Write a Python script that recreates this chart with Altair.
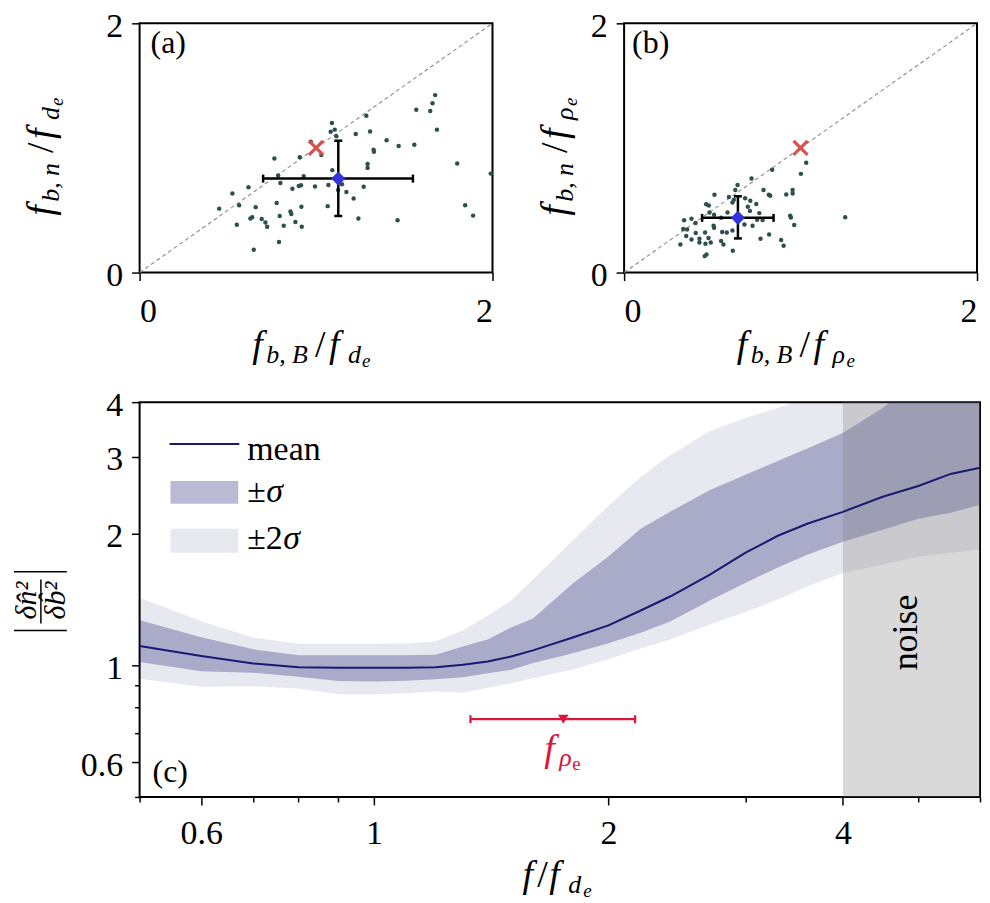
import altair as alt
import pandas as pd

FONT = "Liberation Serif"

# ---------------- panel (a) data ----------------
a_x = [1.09, 1.106, 1.083, 1.115, 1.285, 1.675, 1.66, 1.647, 1.568, 1.685, 1.225, 1.306, 1.40, 1.468,
       1.557, 1.326, 1.328, 1.03, 0.97, 0.764, 0.908, 1.292, 1.292, 1.80, 1.99, 1.092, 0.93, 0.785,
       0.798, 0.617, 0.526, 0.866, 0.902, 0.915, 0.994, 1.07, 1.147, 1.125, 1.172, 1.27, 1.213, 0.451,
       0.564, 0.658, 0.777, 0.917, 1.066, 0.855, 0.86, 0.794, 0.638, 0.628, 0.692, 0.713, 0.723, 0.551,
       0.817, 0.883, 0.919, 1.24, 1.462, 1.845, 1.89, 0.79, 0.647]
a_y = [1.20, 1.147, 1.13, 1.094, 1.259, 1.424, 1.358, 1.297, 1.307, 1.147, 1.112, 1.132, 1.061, 1.015,
       1.025, 0.985, 0.97, 0.944, 1.05, 0.916, 0.926, 0.871, 0.84, 0.876, 0.794, 0.822, 0.774, 0.779,
       0.718, 0.685, 0.635, 0.673, 0.695, 0.70, 0.69, 0.703, 0.708, 0.662, 0.647, 0.688, 0.594, 0.513,
       0.541, 0.525, 0.558, 0.528, 0.533, 0.49, 0.47, 0.454, 0.444, 0.434, 0.429, 0.401, 0.368, 0.383,
       0.376, 0.406, 0.368, 0.434, 0.419, 0.541, 0.457, 0.246, 0.183]
a_mean = [1.126, 0.754]
a_xerr = [0.70, 1.549]
a_yerr = [0.454, 1.058]

# ---------------- panel (b) data ----------------
b_x = [1.032, 1.002, 0.839, 0.722, 0.643, 0.63, 0.79, 0.82, 0.828, 0.919, 0.955, 0.955, 0.512, 0.594,
       0.614, 0.622, 0.686, 0.715, 0.749, 0.701, 0.713, 0.766, 0.465, 0.48, 0.484, 0.51, 0.586, 0.55,
       0.382, 0.34, 0.405, 0.507, 0.51, 0.754, 0.785, 0.728, 0.941, 0.945, 0.964, 1.253, 0.335, 0.357,
       0.406, 0.459, 0.556, 0.582, 0.614, 0.352, 0.382, 0.427, 0.427, 0.461, 0.491, 0.478, 0.55, 0.563,
       0.773, 0.822, 0.89, 0.904, 0.319, 0.616, 0.467, 0.457, 0.682]
b_y = [0.881, 0.792, 0.825, 0.754, 0.703, 0.662, 0.662, 0.624, 0.617, 0.627, 0.662, 0.635, 0.624, 0.607,
       0.563, 0.584, 0.596, 0.576, 0.551, 0.528, 0.495, 0.477, 0.548, 0.538, 0.482, 0.464, 0.482, 0.44,
       0.431, 0.419, 0.398, 0.376, 0.36, 0.424, 0.421, 0.376, 0.457, 0.442, 0.381, 0.444, 0.35, 0.345,
       0.317, 0.322, 0.325, 0.322, 0.338, 0.294, 0.266, 0.272, 0.241, 0.231, 0.241, 0.277, 0.254, 0.226,
       0.272, 0.305, 0.261, 0.216, 0.226, 0.175, 0.145, 0.132, 0.386]
b_mean = [0.645, 0.439]
b_xerr = [0.442, 0.847]
b_yerr = [0.274, 0.612]

ref_point = [1.0, 1.0]
diag = [0.0, 2.0]
scatter_ticks = [0, 1, 2]

# ---------------- panel (c) data ----------------
f_grid = [0.5, 0.6, 0.7, 0.8, 0.9, 1.0, 1.1, 1.2, 1.3, 1.4, 1.5, 1.6, 1.8, 2.0, 2.2, 2.4, 2.7, 3.0,
          3.3, 3.6, 4.0, 4.5, 5.0, 5.5, 6.0]
mean_c = [1.107, 1.05, 1.01, 0.99, 0.987, 0.987, 0.987, 0.99, 1.003, 1.021, 1.048, 1.082, 1.158, 1.234,
          1.335, 1.437, 1.612, 1.81, 1.979, 2.108, 2.245, 2.43, 2.573, 2.741, 2.833]
sig_hi = [1.269, 1.16, 1.088, 1.054, 1.054, 1.054, 1.054, 1.057, 1.105, 1.146, 1.221, 1.28, 1.54, 1.774,
          2.053, 2.245, 2.52, 2.73, 2.935, 3.133, 3.40, 3.88, 4.5, 5.0, 5.4]
sig_lo = [1.018, 0.97, 0.962, 0.942, 0.921, 0.919, 0.922, 0.929, 0.939, 0.959, 0.977, 1.012, 1.066, 1.123,
          1.187, 1.26, 1.407, 1.546, 1.675, 1.791, 1.918, 2.042, 2.164, 2.234, 2.329]
sig2_hi = [1.427, 1.262, 1.157, 1.12, 1.12, 1.12, 1.122, 1.136, 1.202, 1.3, 1.407, 1.572, 1.932, 2.317,
           2.698, 3.03, 3.435, 3.679, 3.88, 4.1, 4.5, 5.0, 5.5, 6.0, 6.5]
sig2_lo = [0.932, 0.894, 0.896, 0.885, 0.859, 0.859, 0.863, 0.872, 0.866, 0.889, 0.91, 0.934, 0.979, 1.032,
           1.093, 1.146, 1.24, 1.324, 1.414, 1.514, 1.627, 1.70, 1.773, 1.81, 1.84]
noise_range = [4.0, 6.0]
frho = [1.75]
frho_range = [1.33, 2.164]
frho_level = [0.753]
c_xticks = [0.5, 0.6, 0.7, 0.8, 0.9, 1, 2, 3, 4, 5, 6]
c_xlabels = [0.6, 1, 2, 4]
c_yticks = [0.5, 0.6, 0.7, 0.8, 0.9, 1, 2, 3, 4]
c_ylabels = [0.6, 1, 2, 3, 4]

ONE = pd.DataFrame({"k": [0]})
MIDNIGHT = "#191970"
TOP_H = 250


def T(s, x, y, size, style="italic", color="black", angle=0, align="left", baseline="alphabetic"):
    return alt.Chart(ONE).mark_text(text=s, font=FONT, fontSize=size, fontStyle=style, color=color,
                                    angle=angle, align=align, baseline=baseline).encode(
        x=alt.value(x), y=alt.value(y))


def hcomp(pieces, x0, y0, color="black"):
    return [T(s, x0 + dx, y0 + dy, sz, style=st, color=color) for (s, dx, dy, sz, st) in pieces]


def vcomp(pieces, x0, y0):
    return [T(s, x0 + dy, y0 - dx, sz, style=st, angle=270) for (s, dx, dy, sz, st) in pieces]


def ratio(sub1, sym2):
    return [("f", 0, 0, 38, "italic"), (sub1, 14, 6, 26, "italic"), ("/", 63, 0, 38, "normal"),
            ("f", 77, 0, 38, "italic"), (sym2, 96, 6, 26, "italic"), ("e", 110, 10, 19, "italic")]


def lin_axis(padding, offset=0):
    return alt.Axis(values=scatter_ticks, title=None, format="d", tickSize=8, labelPadding=padding,
                    labelOffset=offset)


def scatter_panel(xs, ys, mean, xerr, yerr, tag, tagx, sym2, ytx):
    sx = alt.Scale(domain=[0, 2], nice=False)
    sy = alt.Scale(domain=[0, 2], nice=False)
    diag_df = pd.DataFrame({"x": diag, "y": diag})
    layers = [
        alt.Chart(diag_df).mark_line(color="#8c8c8c", strokeDash=[4, 3], strokeWidth=1.1).encode(
            x=alt.X("x:Q", scale=sx, axis=lin_axis(14)),
            y=alt.Y("y:Q", scale=sy, axis=lin_axis(9, 3))),
        alt.Chart(pd.DataFrame({"x": xs, "y": ys})).mark_circle(size=20, color="#2f4f4f", opacity=1).encode(
            x="x:Q", y="y:Q"),
        alt.Chart(pd.DataFrame({"x": [ref_point[0]], "y": [ref_point[1]]})).mark_point(
            shape="M-1,-1L1,1M-1,1L1,-1", filled=False, size=200, strokeWidth=3.2, color="#d9504d",
            opacity=1).encode(x="x:Q", y="y:Q"),
        alt.Chart(pd.DataFrame({"x": [xerr[0]], "x2": [xerr[1]], "y": [mean[1]]})).mark_rule(
            color="black", strokeWidth=2.5).encode(x="x:Q", x2="x2:Q", y="y:Q"),
        alt.Chart(pd.DataFrame({"x": [mean[0]], "y": [yerr[0]], "y2": [yerr[1]]})).mark_rule(
            color="black", strokeWidth=2.5).encode(x="x:Q", y="y:Q", y2="y2:Q"),
        alt.Chart(pd.DataFrame({"x": xerr, "y": [mean[1]] * 2})).mark_tick(
            orient="vertical", thickness=2.5, size=8, color="black", opacity=1).encode(x="x:Q", y="y:Q"),
        alt.Chart(pd.DataFrame({"x": [mean[0]] * 2, "y": yerr})).mark_tick(
            orient="horizontal", thickness=2.5, size=8, color="black", opacity=1).encode(x="x:Q", y="y:Q"),
        alt.Chart(pd.DataFrame({"x": [mean[0]], "y": [mean[1]]})).mark_point(
            shape="diamond", filled=True, size=200, color="#3333dd", opacity=1).encode(x="x:Q", y="y:Q"),
        T(tag, tagx, 30, 32, style="normal"),
    ]
    layers += hcomp(ratio("b, B", sym2), 113, TOP_H + 85)
    layers += vcomp(ratio("b, n", sym2), ytx, TOP_H / 2 + 68)
    return alt.layer(*layers).properties(width=354, height=TOP_H)


pa = scatter_panel(a_x, a_y, a_mean, a_xerr, a_yerr, "(a)", 11, "d", -87)
pb = scatter_panel(b_x, b_y, b_mean, b_xerr, b_yerr, "(b)", 8, "ρ", -57)

# ---------------- panel (c) ----------------
band = pd.DataFrame({"f": f_grid, "m": mean_c, "s_lo": sig_lo, "s_hi": sig_hi,
                     "s2_lo": sig2_lo, "s2_hi": sig2_hi})
sxc = alt.Scale(type="log", domain=[0.5, 6], nice=False)
syc = alt.Scale(type="log", domain=[0.5, 4], nice=False)
xl = "[" + ",".join(str(v) for v in c_xlabels) + "]"
yl = "[" + ",".join(str(v) for v in c_ylabels) + "]"
xaxis_c = alt.Axis(values=c_xticks, title=None, labelOverlap=False, labelPadding=12,
                   labelExpr="indexof(" + xl + ", datum.value) >= 0 ? format(datum.value, '~g') : ''",
                   tickSize={"condition": {"test": "indexof(" + xl + ", datum.value) < 0", "value": 5},
                             "value": 8})
yaxis_c = alt.Axis(values=c_yticks, title=None, labelOverlap=False, labelPadding=9, labelOffset=3,
                   labelExpr="indexof(" + yl + ", datum.value) >= 0 ? format(datum.value, '~g') : ''",
                   tickSize={"condition": {"test": "indexof(" + yl + ", datum.value) < 0", "value": 5},
                             "value": 8})

c_layers = [
    alt.Chart(band).mark_area(color=MIDNIGHT, opacity=0.1, clip=True).encode(
        x=alt.X("f:Q", scale=sxc, axis=xaxis_c), y=alt.Y("s2_lo:Q", scale=syc, axis=yaxis_c), y2="s2_hi:Q"),
    alt.Chart(band).mark_area(color=MIDNIGHT, opacity=0.3, clip=True).encode(
        x="f:Q", y="s_lo:Q", y2="s_hi:Q"),
    alt.Chart(pd.DataFrame({"x": [noise_range[0]], "x2": [noise_range[1]]})).mark_rect(
        color="#808080", opacity=0.3).encode(x="x:Q", x2="x2:Q", y=alt.value(0), y2=alt.value(396)),
    alt.Chart(band).mark_line(color=MIDNIGHT, strokeWidth=2, clip=True).encode(x="f:Q", y="m:Q"),
    alt.Chart(pd.DataFrame({"x": [frho_range[0]], "x2": [frho_range[1]], "y": frho_level})).mark_rule(
        color="#dc143c", strokeWidth=2.2).encode(x="x:Q", x2="x2:Q", y="y:Q"),
    alt.Chart(pd.DataFrame({"x": frho_range, "y": frho_level * 2})).mark_tick(
        orient="vertical", thickness=2.2, size=8, color="#dc143c", opacity=1).encode(x="x:Q", y="y:Q"),
    alt.Chart(pd.DataFrame({"x": frho, "y": frho_level})).mark_point(
        shape="triangle-down", filled=True, size=110, color="#dc143c", opacity=1).encode(x="x:Q", y="y:Q"),
    T("noise", 769, 231, 36, style="normal", angle=270, align="center", baseline="middle"),
    T("(c)", 13, 381, 32, style="normal"),
    # legend
    alt.Chart(ONE).mark_rule(color=MIDNIGHT, strokeWidth=2).encode(
        x=alt.value(30), x2=alt.value(100), y=alt.value(42)),
    alt.Chart(ONE).mark_rect(color=MIDNIGHT, opacity=0.3).encode(
        x=alt.value(31), x2=alt.value(99), y=alt.value(79), y2=alt.value(102)),
    alt.Chart(ONE).mark_rect(color=MIDNIGHT, opacity=0.1).encode(
        x=alt.value(31), x2=alt.value(99), y=alt.value(127), y2=alt.value(151)),
    T("mean", 108, 58, 34, style="normal"),
    T("±", 108, 100, 34, style="normal"),
    T("σ", 127, 100, 34, style="italic"),
    T("±2", 108, 147, 34, style="normal"),
    T("σ", 144, 147, 34, style="italic"),
    # y title |dn^2 / db^2|
    T("δn\u0302\u00b2", -113, 199, 30, style="italic", angle=270, align="center", baseline="middle"),
    T("δb\u0302\u00b2", -84, 199, 30, style="italic", angle=270, align="center", baseline="middle"),
    alt.Chart(ONE).mark_rule(color="black", strokeWidth=1.5).encode(
        x=alt.value(-99), y=alt.value(178), y2=alt.value(222)),
    alt.Chart(ONE).mark_rule(color="black", strokeWidth=1.5).encode(
        x=alt.value(-126), x2=alt.value(-73), y=alt.value(170)),
    alt.Chart(ONE).mark_rule(color="black", strokeWidth=1.5).encode(
        x=alt.value(-126), x2=alt.value(-73), y=alt.value(229)),
]
c_layers += hcomp([("f", 0, 0, 38, "italic"), ("ρ", 15, 5, 26, "italic"), ("e", 28, 9, 19, "normal")],
                  406, 360, color="#dc143c")
c_layers += hcomp([("f", 0, 0, 38, "italic"), ("/", 15, 0, 38, "normal"), ("f", 27, 0, 38, "italic"),
                   ("d", 46, 6, 26, "italic"), ("e", 61, 10, 19, "italic")], 384, 486)
pc = alt.layer(*c_layers).properties(width=843, height=396)

top = alt.hconcat(pa, pb, spacing=40)
chart = alt.vconcat(top, pc, spacing=15).properties(
    padding={"top": -1, "left": 3, "right": 0, "bottom": 0}, background="white"
).configure_axis(
    labelFont=FONT, labelFontSize=34, labelColor="black", tickColor="black", tickWidth=1.5,
    domain=False, grid=False
).configure_view(stroke="black", strokeWidth=2)

chart.save("out.html", embed_options={"renderer": "svg", "actions": False})
